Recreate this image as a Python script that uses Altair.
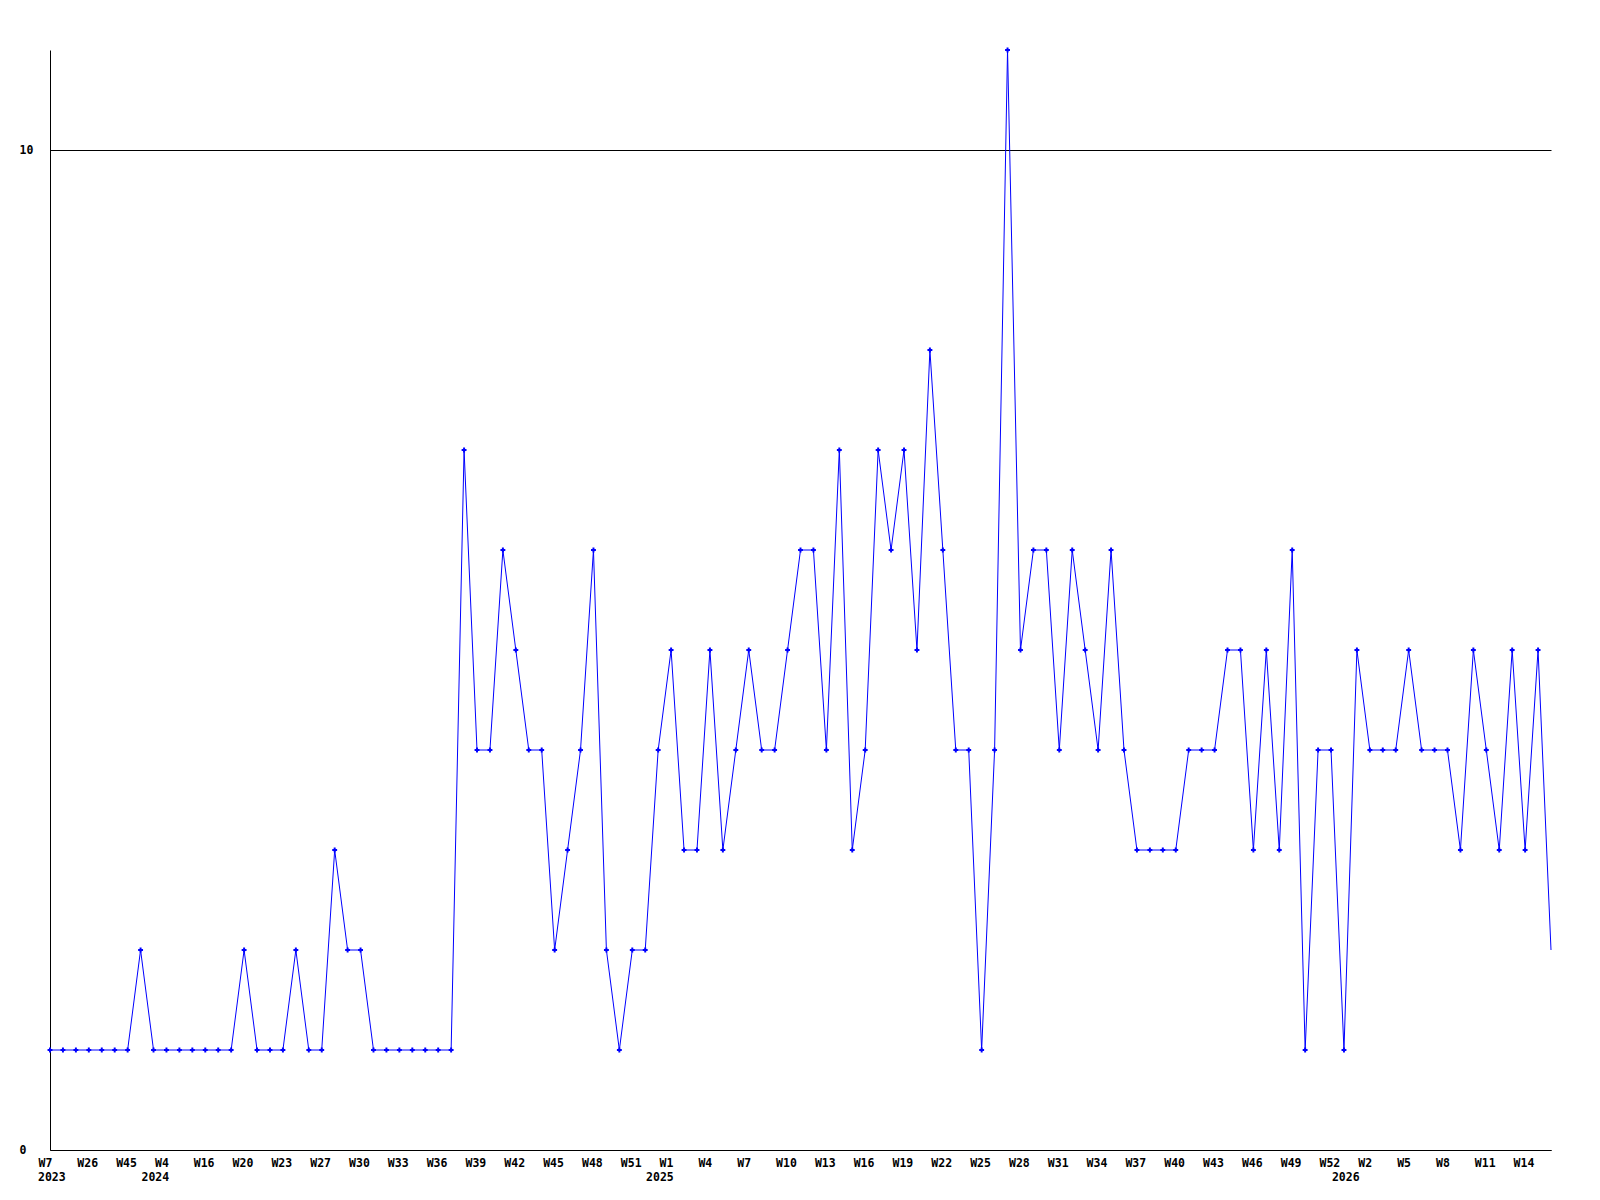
import json
import altair as alt
import pandas as pd

# weekly values, one per data point (index 0..116)
values = [
    1, 1, 1, 1, 1, 1, 1, 2, 1, 1, 1, 1, 1, 1, 1, 2, 1, 1, 1, 2,
    1, 1, 3, 2, 2, 1, 1, 1, 1, 1, 1, 1, 7, 4, 4, 6, 5, 4, 4, 2,
    3, 4, 6, 2, 1, 2, 2, 4, 5, 3, 3, 5, 3, 4, 5, 4, 4, 5, 6, 6,
    4, 7, 3, 4, 7, 6, 7, 5, 8, 6, 4, 4, 1, 4, 11, 5, 6, 6, 4, 6,
    5, 4, 6, 4, 3, 3, 3, 3, 4, 4, 4, 5, 5, 3, 5, 3, 6, 1, 4, 4,
    1, 5, 4, 4, 4, 5, 4, 4, 4, 3, 5, 4, 3, 5, 3, 5, 2,
]

# tick labels shown every third data point
week_labels = [
    "W7", "W26", "W45", "W4", "W16", "W20", "W23", "W27", "W30", "W33",
    "W36", "W39", "W42", "W45", "W48", "W51", "W1", "W4", "W7", "W10",
    "W13", "W16", "W19", "W22", "W25", "W28", "W31", "W34", "W37", "W40",
    "W43", "W46", "W49", "W52", "W2", "W5", "W8", "W11", "W14",
]

# year labels and the data point where each year starts
years = ["2023", "2024", "2025", "2026"]
year_index = [0, 9, 48, 101]

df = pd.DataFrame({"i": list(range(len(values))), "v": values})
ydf = pd.DataFrame({"i": year_index, "year": years})

FONT = "DejaVu Sans Mono"
FS = 11.5
N = len(values) - 1

xscale = alt.Scale(domain=[0, N], nice=False, zero=False)
yscale = alt.Scale(domain=[0, 11], nice=False, zero=True)

label_expr = json.dumps(week_labels) + "[round(datum.value / 3)]"

x_axis = alt.Axis(
    values=list(range(0, N, 3)),
    labelExpr=label_expr,
    title=None,
    grid=False,
    ticks=False,
    tickSize=0,
    domain=True,
    domainColor="black",
    domainWidth=1,
    labelAlign="left",
    labelBaseline="top",
    labelOffset=-12,
    labelPadding=7,
    labelFlush=False,
    labelOverlap=False,
    labelSeparation=0,
    labelFont=FONT,
    labelFontWeight="bold",
    labelFontSize=FS,
    labelColor="black",
)

y_axis = alt.Axis(
    values=[0, 10],
    format="d",
    title=None,
    grid=True,
    gridColor="black",
    gridOpacity=1,
    gridWidth=1,
    ticks=False,
    tickSize=0,
    domain=True,
    domainColor="black",
    domainWidth=1,
    labelAlign="left",
    labelBaseline="middle",
    labelPadding=31,
    labelFlush=False,
    labelOverlap=False,
    labelFont=FONT,
    labelFontWeight="bold",
    labelFontSize=FS,
    labelColor="black",
)

base = alt.Chart(df).encode(
    x=alt.X("i:Q", scale=xscale, axis=x_axis),
    y=alt.Y("v:Q", scale=yscale, axis=y_axis),
)

line = base.mark_line(color="#0000FF", strokeWidth=1)

points = base.mark_point(
    shape="cross", filled=True, size=24, color="#0000FF", opacity=1
).transform_filter(f"datum.i < {N}")

year_text_style = dict(
    font=FONT, fontWeight="bold", fontSize=FS, color="black",
    align="left", baseline="top",
)

year_first = alt.Chart(ydf).transform_filter("datum.i == 0").mark_text(
    dx=-12, **year_text_style
).encode(
    x=alt.X("i:Q", scale=xscale, axis=x_axis),
    y=alt.value(1122),
    text="year:N",
)

year_rest = alt.Chart(ydf).transform_filter("datum.i > 0").mark_text(
    dx=-25, **year_text_style
).encode(
    x=alt.X("i:Q", scale=xscale, axis=x_axis),
    y=alt.value(1122),
    text="year:N",
)

chart = alt.layer(line, points, year_first, year_rest).properties(
    width=1501,
    height=1100,
    autosize=alt.AutoSizeParams(type="none"),
    padding={"left": 42, "top": 42, "right": 40, "bottom": 50},
    background="white",
).configure_view(strokeWidth=0).configure_axis(labelOverlap=False)

chart.save("out.html", embed_options={"renderer": "svg", "actions": False})
